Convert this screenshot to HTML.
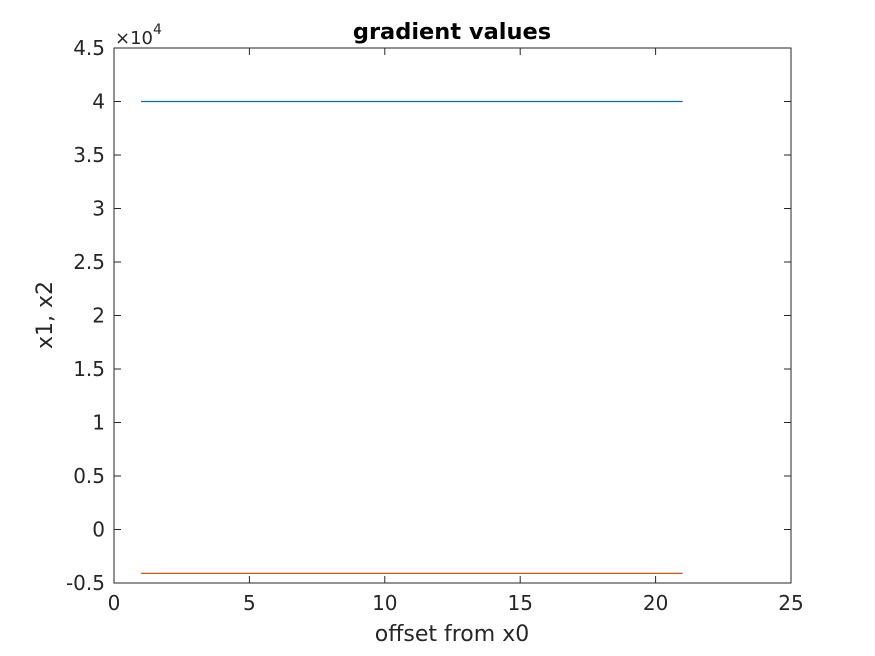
<!DOCTYPE html>
<html><head><meta charset="utf-8"><style>
body{margin:0;background:#fff;}
svg{display:block;font-family:"DejaVu Sans","Liberation Sans",sans-serif;}
</style></head><body>
<svg id="c" width="875" height="656">
<rect x="0" y="0" width="875" height="656" fill="#fff"/>
<g id="plot"></g>
</svg>
<script>
const xs = [1,21];
const series1 = [40000,40000];
const series2 = [-4100,-4100];
const xTicks = [0,5,10,15,20,25];
const yTicks = [-0.5,0,0.5,1,1.5,2,2.5,3,3.5,4,4.5];
const yTickLabels = ['-0.5','0','0.5','1','1.5','2','2.5','3','3.5','4','4.5'];
const L=114,R=791,T=48,B=583;
const sx=v=>L+(v-0)/(25-0)*(R-L);
const sy=v=>B-(v/1e4+0.5)/5*(B-T);
const g=document.getElementById('plot');
const NS='http://www.w3.org/2000/svg';
function mk(t,a,txt){const e=document.createElementNS(NS,t);for(const k in a)e.setAttribute(k,a[k]);if(txt!==undefined)e.textContent=txt;g.appendChild(e);return e;}
let e=mk('rect',{x:L,y:T,width:R-L,height:B-T,fill:'none',stroke:'#262626','stroke-width':1});


xTicks.forEach(v=>{const x=sx(v);
 mk('line',{x1:x,x2:x,y1:B,y2:B-7,stroke:'#262626'});
 mk('line',{x1:x,x2:x,y1:T,y2:T+7,stroke:'#262626'});
 e=mk('text',{x:x,y:B+27,'text-anchor':'middle','font-size':20,fill:'#262626'},String(v));
 
 
});
yTicks.forEach((v,i)=>{const y=sy(v*1e4);
 mk('line',{x1:L,x2:L+7,y1:y,y2:y,stroke:'#262626'});
 mk('line',{x1:R,x2:R-7,y1:y,y2:y,stroke:'#262626'});
 e=mk('text',{x:L-9,y:y+7,'text-anchor':'end','font-size':20,fill:'#262626'},yTickLabels[i]);
 
 
});
e=mk('text',{x:115,y:44,'font-size':18,fill:'#262626'},'×10');


mk('text',{x:153,y:34,'font-size':14,fill:'#262626'},'4');
function line(d,c,n){e=mk('polyline',{points:xs.map((x,i)=>sx(x)+','+sy(d[i])).join(' '),fill:'none',stroke:c,'stroke-width':1.2});
 
 }
line(series1,'#0072bd','series-x1');
line(series2,'#d95319','series-x2');
e=mk('text',{x:452,y:39,'text-anchor':'middle','font-size':22.5,'font-weight':'bold',fill:'#000'},'gradient values');


e=mk('text',{x:452,y:641,'text-anchor':'middle','font-size':22,fill:'#262626'},'offset from x0');


e=mk('text',{x:0,y:0,'text-anchor':'middle','font-size':22,fill:'#262626',transform:'translate(52,315) rotate(-90)'},'x1, x2');


</script>
</body></html>
